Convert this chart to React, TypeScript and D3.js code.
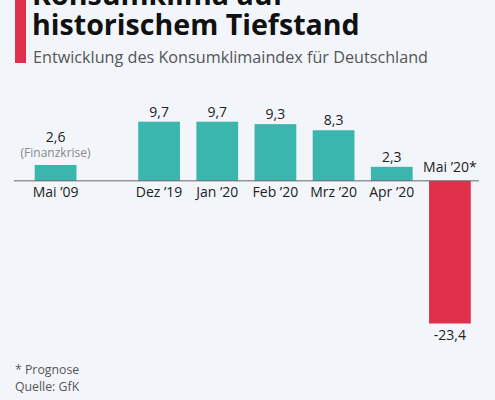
import React from "react";
import * as d3 from "d3";

const recentCategories = ["Dez ’19", "Jan ’20", "Feb ’20", "Mrz ’20", "Apr ’20", "Mai ’20*"];
const recentValues = [9.7, 9.7, 9.3, 8.3, 2.3, -23.4];
const crisisCategories = ["Mai ’09"];
const crisisValues = [2.6];
const crisisNote = "(Finanzkrise)";
const titleLines = ["Konsumklima auf", "historischem Tiefstand"];
const subtitle = "Entwicklung des Konsumklimaindex für Deutschland";
const footnotes = ["* Prognose", "Quelle: GfK"];

const W = 495;
const H = 400;
const FONT = "'Open Sans', sans-serif";
const TEAL = "#3bb6ae";
const RED = "#e1304a";
const BG = "#f2f6fa";

const fmt = (v: number) => String(v).replace(".", ",");

export default function App() {
  const y = d3.scaleLinear().domain([-23.4, 9.7]).range([323.5, 121.7]);
  const x = d3
    .scaleBand<string>()
    .domain(recentCategories)
    .range([130, 479])
    .paddingInner(0.282)
    .paddingOuter(0.141);
  const x0 = d3
    .scaleBand<string>()
    .domain(crisisCategories)
    .range([26.5, 84.7])
    .paddingInner(0.282)
    .paddingOuter(0.141);
  const base = y(0);

  const bars = [
    ...crisisCategories.map((c, i) => ({ c, v: crisisValues[i], x: x0(c)!, w: x0.bandwidth(), crisis: true })),
    ...recentCategories.map((c, i) => ({ c, v: recentValues[i], x: x(c)!, w: x.bandwidth(), crisis: false })),
  ];

  return (
    <svg
      width={W}
      height={H}
      style={{ position: "absolute", left: 0, top: 0, display: "block", background: BG }}
      fontFamily={FONT}
    >
      <rect x={0} y={0} width={W} height={H} fill={BG} />
      <rect x={15} y={0} width={11} height={63} fill={RED} />
      {titleLines.map((t, i) => (
        <text key={t} x={32} y={5 + i * 30} fontSize={28.6} fontWeight={700} fill="#111">
          {t}
        </text>
      ))}
      <text x={33} y={63} fontSize={16.2} fill="#555">
        {subtitle}
      </text>

      {bars.map((b) => {
        const neg = b.v < 0;
        const top = neg ? base : y(b.v);
        const h = Math.abs(y(b.v) - base);
        const cx = b.x + b.w / 2;
        return (
          <g key={b.c}>
            <rect x={b.x} y={top} width={b.w} height={h} fill={neg ? RED : TEAL} />
            {neg ? (
              <>
                <text x={cx} y={y(b.v) + 16.5} fontSize={14} textAnchor="middle" fill="#222">
                  {fmt(b.v)}
                </text>
                <text x={cx} y={base - 8.5} fontSize={14} textAnchor="middle" fill="#222">
                  {b.c}
                </text>
              </>
            ) : (
              <>
                <text
                  x={cx}
                  y={y(b.v) - (b.crisis ? 22.5 : 5)}
                  fontSize={14}
                  textAnchor="middle"
                  fill="#222"
                >
                  {fmt(b.v)}
                </text>
                {b.crisis && (
                  <text x={cx} y={y(b.v) - 8} fontSize={12} textAnchor="middle" fill="#888">
                    {crisisNote}
                  </text>
                )}
                <text x={cx} y={base + 16} fontSize={14} textAnchor="middle" fill="#222">
                  {b.c}
                </text>
              </>
            )}
          </g>
        );
      })}
      <line x1={14} x2={479} y1={base} y2={base} stroke="#666" strokeWidth={1} />

      {footnotes.map((f, i) => (
        <text key={f} x={15} y={374 + i * 17} fontSize={12.3} fill="#555">
          {f}
        </text>
      ))}
    </svg>
  );
}
